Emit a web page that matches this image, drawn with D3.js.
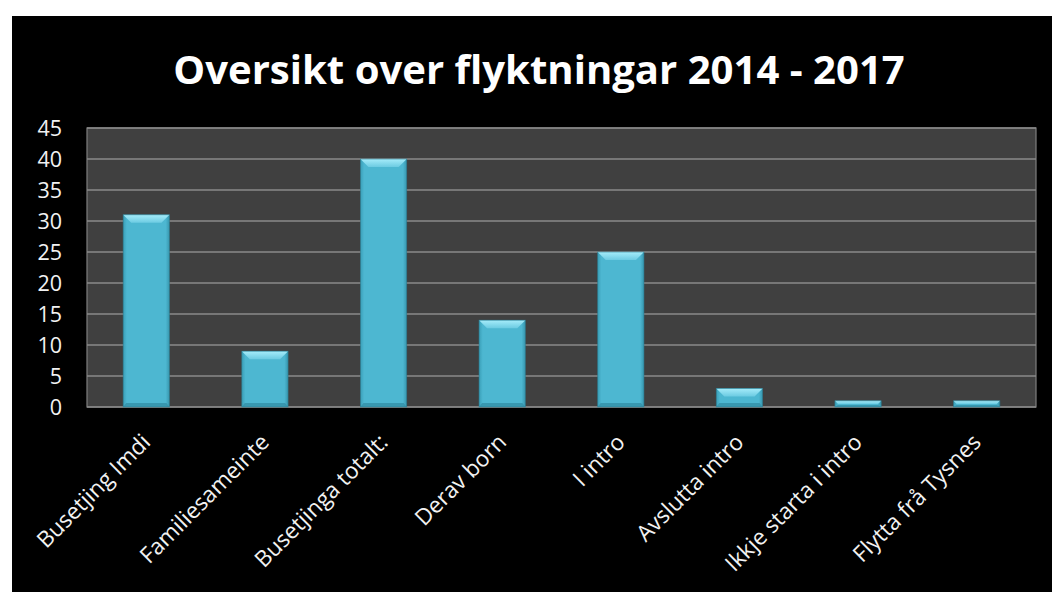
<!DOCTYPE html>
<html><head><meta charset="utf-8">
<script src="https://cdn.jsdelivr.net/npm/d3@7"></script>
<style>
html,body{margin:0;padding:0;background:#fff;}
svg{display:block;}
</style></head>
<body>
<svg id="chart" width="1052" height="592"></svg>
<script>
const title = "Oversikt over flyktningar 2014 - 2017";
const categories = ["Busetjing Imdi","Familiesameinte","Busetjinga totalt:","Derav born","I intro","Avslutta intro","Ikkje starta i intro","Flytta frå Tysnes"];
const values = [31, 9, 40, 14, 25, 3, 1, 1];
const yTicks = [0,5,10,15,20,25,30,35,40,45];

const svg = d3.select("#chart");
const W = 1052, H = 592;
const plot = {left: 87, top: 128, right: 1036, bottom: 407};
const font = "'Open Sans', sans-serif";

svg.append("rect").attr("x",12).attr("y",16).attr("width",W-12).attr("height",H-16).attr("fill","#000");

// defs
const defs = svg.append("defs");
const gMain = defs.append("linearGradient").attr("id","gMain").attr("x1","0").attr("x2","1").attr("y1","0").attr("y2","0");
gMain.append("stop").attr("offset","0").attr("stop-color","#3a9fb8");
gMain.append("stop").attr("offset","0.08").attr("stop-color","#4db7d1");
gMain.append("stop").attr("offset","0.92").attr("stop-color","#4db7d1");
gMain.append("stop").attr("offset","1").attr("stop-color","#3796ae");
const gTop = defs.append("linearGradient").attr("id","gTop").attr("x1","0").attr("x2","0").attr("y1","0").attr("y2","1");
gTop.append("stop").attr("offset","0").attr("stop-color","#a6ecfa");
gTop.append("stop").attr("offset","1").attr("stop-color","#6ccbe2");

const x = d3.scaleBand().domain(categories).range([plot.left, plot.right]).paddingInner(0.61).paddingOuter(0.305);
const y = d3.scaleLinear().domain([0,45]).range([plot.bottom, plot.top]);

// plot background
svg.append("rect").attr("x",plot.left).attr("y",plot.top)
  .attr("width",plot.right-plot.left).attr("height",plot.bottom-plot.top)
  .attr("fill","#404040").attr("stroke","#7f7f7f").attr("stroke-width",1.2);

// grid
svg.append("g").selectAll("line").data(yTicks).join("line")
  .attr("x1",plot.left).attr("x2",plot.right)
  .attr("y1",d=>y(d)).attr("y2",d=>y(d))
  .attr("stroke","#8a8a8a").attr("stroke-width",1.5);

// y axis
const yAxis = d3.axisLeft(y).tickValues(yTicks).tickSize(0).tickPadding(0);
const ya = svg.append("g").attr("transform",`translate(${62},0)`).call(yAxis);
ya.select(".domain").remove();
ya.selectAll("text").attr("fill","#f2f2f2").style("font-family",font).style("font-size","21.5px").attr("dy","0.36em");

// bars
const bars = svg.append("g").selectAll("g").data(categories.map((c,i)=>({c, v: values[i]}))).join("g");
bars.each(function(d){
  const g = d3.select(this);
  const x0 = x(d.c), w = x.bandwidth(), y0 = y(d.v), y1 = y(0), h = y1 - y0;
  const b = Math.min(8, h/2), s = Math.min(3, w/2), bb = Math.min(4, h/3);
  g.append("rect").attr("x",x0).attr("y",y0).attr("width",w).attr("height",h).attr("fill","url(#gMain)");
  g.append("polygon").attr("points",[[x0,y1],[x0+w,y1],[x0+w-s,y1-bb],[x0+s,y1-bb]].map(p=>p.join(",")).join(" "))
    .attr("fill","#3390a8").attr("opacity",0.8);
  g.append("polygon").attr("points",[[x0,y0],[x0+w,y0],[x0+w-b,y0+b],[x0+b,y0+b]].map(p=>p.join(",")).join(" "))
    .attr("fill","url(#gTop)");
  g.append("rect").attr("x",x0).attr("y",y0).attr("width",w).attr("height",h)
    .attr("fill","none").attr("stroke","#2b7f94").attr("stroke-width",0.8).attr("opacity",0.7);
});

// x labels
svg.append("g").selectAll("text").data(categories).join("text")
  .attr("transform", d=>`translate(${x(d)+x.bandwidth()/2},${438}) rotate(-45)`)
  .attr("text-anchor","end")
  .attr("dy","0.35em")
  .attr("fill","#f2f2f2")
  .style("font-family",font).style("font-size","22.5px")
  .text(d=>d);

// title
const t = svg.append("text").attr("x",(173+905)/2).attr("y",84).attr("text-anchor","middle")
  .attr("fill","#fff").style("font-family",font).style("font-weight","bold").style("font-size","44px")
  .text(title);
const tw = t.node().getComputedTextLength();
t.style("font-size", (44*732/tw).toFixed(1)+"px");
</script>
</body></html>
